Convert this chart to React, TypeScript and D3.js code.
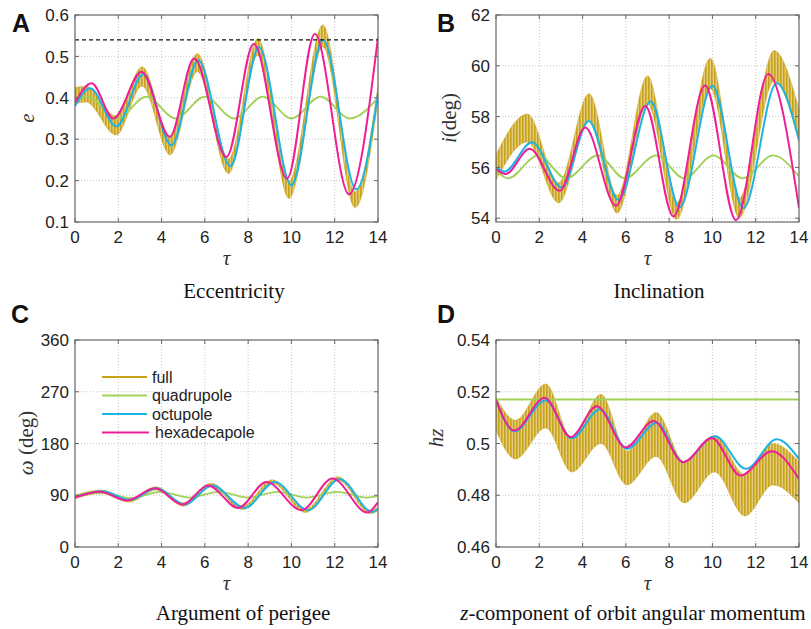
import React from 'react';
import * as d3 from 'd3';

const W = 811;
const H = 629;
const tauTicks = [0, 2, 4, 6, 8, 10, 12, 14];

// ---------- Panel A : eccentricity ----------
const fullA_t = [0, 0.5, 1.9, 3.1, 4.4, 5.65, 7.1, 8.45, 9.9, 11.45, 12.95, 14];
const fullA_lo = [0.385, 0.39, 0.31, 0.428, 0.262, 0.463, 0.217, 0.503, 0.157, 0.523, 0.135, 0.392];
const fullA_hi = [0.425, 0.428, 0.356, 0.475, 0.306, 0.507, 0.253, 0.543, 0.2, 0.576, 0.173, 0.43];
const quadA_t = [0, 0.6, 1.95, 3.3, 4.65, 6.0, 7.35, 8.68, 10.0, 11.35, 12.7, 14];
const quadA_v = [0.39, 0.403, 0.35, 0.403, 0.35, 0.403, 0.35, 0.403, 0.35, 0.403, 0.35, 0.4];
const octA_t = [0, 0.7, 1.92, 3.15, 4.46, 5.69, 7.18, 8.5, 10.0, 11.46, 13.0, 14];
const octA_v = [0.38, 0.423, 0.331, 0.457, 0.285, 0.491, 0.235, 0.522, 0.189, 0.54, 0.179, 0.41];
const hexA_t = [0, 0.77, 1.77, 3.08, 4.38, 5.5, 7.0, 8.26, 9.8, 11.08, 12.66, 14];
const hexA_v = [0.388, 0.435, 0.35, 0.463, 0.306, 0.495, 0.257, 0.53, 0.205, 0.554, 0.167, 0.546];
const eTicks = [0.1, 0.2, 0.3, 0.4, 0.5, 0.6];
const eLimit = 0.54;

// ---------- Panel B : inclination ----------
const fullB_t = [0, 1.45, 2.9, 4.3, 5.6, 7.0, 8.35, 9.9, 11.25, 12.85, 14];
const fullB_lo = [55.5, 57.0, 54.6, 57.8, 54.2, 58.5, 53.95, 59.1, 54.0, 59.4, 57.0];
const fullB_hi = [56.5, 58.1, 55.4, 58.9, 54.9, 59.6, 54.6, 60.3, 54.8, 60.6, 58.3];
const quadB_t = [0, 0.55, 1.95, 3.25, 4.7, 5.95, 7.4, 8.7, 10.05, 11.4, 12.8, 14];
const quadB_v = [55.88, 55.57, 56.47, 55.57, 56.47, 55.57, 56.47, 55.57, 56.47, 55.57, 56.47, 55.64];
const octB_t = [0, 0.4, 1.66, 3.05, 4.28, 5.66, 7.15, 8.48, 10.0, 11.43, 12.97, 14];
const octB_v = [56.0, 55.84, 56.99, 55.2, 57.83, 54.72, 58.59, 54.43, 59.21, 54.39, 59.31, 57.08];
const hexB_t = [0, 0.45, 1.55, 2.94, 4.12, 5.54, 6.9, 8.2, 9.66, 11.09, 12.58, 14];
const hexB_v = [55.93, 55.74, 56.73, 55.08, 57.57, 54.49, 58.42, 54.07, 59.22, 53.93, 59.68, 54.4];
const iTicks = [54, 56, 58, 60, 62];

// ---------- Panel C : argument of perigee ----------
const fullC_t = [0, 1.2, 2.5, 3.75, 5.0, 6.3, 7.75, 9.1, 10.65, 12.15, 13.65, 14];
const fullC_lo = [84, 93, 78, 99, 71, 105, 65, 111, 60, 116, 58, 63];
const fullC_hi = [90, 99, 84, 105, 77, 111, 71, 117, 66, 122, 64, 69];
const quadC_t = [0, 1.3, 2.6, 3.95, 5.3, 6.65, 8.0, 9.35, 10.7, 12.1, 13.5, 14];
const quadC_v = [88, 95, 85, 96, 86, 96, 86, 96, 86, 96, 86, 89];
const octC_t = [0, 1.25, 2.55, 3.77, 5.08, 6.34, 7.85, 9.23, 10.77, 12.23, 13.74, 14];
const octC_v = [87, 97, 82, 102, 74, 107, 68, 113, 64, 118, 61, 66];
const hexC_t = [0, 1.15, 2.4, 3.7, 4.97, 6.15, 7.54, 8.85, 10.46, 11.9, 13.5, 14];
const hexC_v = [86, 96, 81, 102, 74, 107, 68, 113, 64, 119, 60, 78];
const wTicks = [0, 90, 180, 270, 360];

// ---------- Panel D : hz ----------
const fullD_t = [0, 0.9, 2.3, 3.5, 4.85, 6.05, 7.4, 8.7, 10.1, 11.5, 12.8, 14];
const fullD_lo = [0.505, 0.494, 0.506, 0.489, 0.5, 0.484, 0.495, 0.477, 0.489, 0.472, 0.484, 0.477];
const fullD_hi = [0.518, 0.509, 0.523, 0.502, 0.519, 0.497, 0.512, 0.493, 0.503, 0.488, 0.5, 0.493];
const quadD_t = [0, 14];
const quadD_v = [0.517, 0.517];
const octD_t = [0, 0.85, 2.3, 3.5, 4.8, 6.05, 7.43, 8.63, 10.12, 11.55, 12.97, 14];
const octD_v = [0.5167, 0.5047, 0.5167, 0.502, 0.5132, 0.4979, 0.508, 0.4928, 0.5028, 0.4902, 0.5016, 0.494];
const hexD_t = [0, 0.85, 2.25, 3.45, 4.66, 6.0, 7.28, 8.66, 9.97, 11.3, 12.74, 14];
const hexD_v = [0.5167, 0.505, 0.5177, 0.5025, 0.5144, 0.4985, 0.5087, 0.4928, 0.5021, 0.4876, 0.497, 0.4863];
const hTicks = [0.46, 0.48, 0.5, 0.52, 0.54];

const legendLabels = ['full', 'quadrupole', 'octupole', 'hexadecapole'];

const C_FULL = '#c8a218';
const C_QUAD = '#a2d255';
const C_OCT = '#1eb4e1';
const C_HEX = '#f01e96';

const SANS = '"Liberation Sans", Arial, Helvetica, sans-serif';
const SERIF = '"Liberation Serif", "Times New Roman", serif';

type Box = { x0: number; x1: number; y0: number; y1: number };

interface PanelProps {
  id: string;
  box: Box;
  yDomain: [number, number];
  yTicks: number[];
  yFmt: (v: number) => string;
  fullT: number[];
  fullLo: number[];
  fullHi: number[];
  quadT: number[];
  quadV: number[];
  octT: number[];
  octV: number[];
  hexT: number[];
  hexV: number[];
  dashed?: number;
  legend?: boolean;
}

function Panel(p: PanelProps) {
  const { box } = p;
  const x = d3.scaleLinear().domain([0, 14]).range([box.x0, box.x1]);
  const y = d3.scaleLinear().domain(p.yDomain).range([box.y1, box.y0]);
  const mkLine = (t: number[], v: number[]) =>
    d3
      .line<number>()
      .x((_, i) => x(t[i]))
      .y((d) => y(d))
      .curve(d3.curveMonotoneX)(v) || '';
  const band =
    d3
      .area<number>()
      .x((_, i) => x(p.fullT[i]))
      .y0((d) => y(d))
      .y1((_, i) => y(p.fullHi[i]))
      .curve(d3.curveMonotoneX)(p.fullLo) || '';
  const clipId = `clip-${p.id}`;
  const patId = `pat-${p.id}`;
  const gridY = p.yTicks.filter((v) => y(v) > box.y0 + 1 && y(v) < box.y1 - 1);
  const gridX = tauTicks.filter((v) => v > 0 && v < 14);
  return (
    <g>
      <defs>
        <clipPath id={clipId}>
          <rect x={box.x0} y={box.y0} width={box.x1 - box.x0} height={box.y1 - box.y0} />
        </clipPath>
        <pattern id={patId} patternUnits="userSpaceOnUse" width={3} height={12}>
          <rect x={0} y={0} width={3} height={12} fill={C_FULL} opacity={0.55} />
          <rect x={0} y={0} width={1.6} height={12} fill={C_FULL} />
        </pattern>
      </defs>
      <rect x={box.x0} y={box.y0} width={box.x1 - box.x0} height={box.y1 - box.y0} fill="#fff" />
      {gridX.map((v) => (
        <line key={'gx' + v} x1={x(v)} x2={x(v)} y1={box.y0} y2={box.y1} stroke="#b8b8b8" strokeWidth={0.8} strokeDasharray="1,2" />
      ))}
      {gridY.map((v) => (
        <line key={'gy' + v} x1={box.x0} x2={box.x1} y1={y(v)} y2={y(v)} stroke="#b8b8b8" strokeWidth={0.8} strokeDasharray="1,2" />
      ))}
      <g clipPath={`url(#${clipId})`}>
        <path d={band} fill={`url(#${patId})`} stroke={C_FULL} strokeWidth={0.8} strokeOpacity={0.6} />
        <path d={mkLine(p.quadT, p.quadV)} fill="none" stroke={C_QUAD} strokeWidth={1.8} />
        <path d={mkLine(p.octT, p.octV)} fill="none" stroke={C_OCT} strokeWidth={2} />
        <path d={mkLine(p.hexT, p.hexV)} fill="none" stroke={C_HEX} strokeWidth={2} />
        {p.dashed !== undefined && (
          <line x1={box.x0} x2={box.x1} y1={y(p.dashed)} y2={y(p.dashed)} stroke="#111" strokeWidth={1.2} strokeDasharray="4,3" />
        )}
      </g>
      <rect x={box.x0} y={box.y0} width={box.x1 - box.x0} height={box.y1 - box.y0} fill="none" stroke="#666" strokeWidth={1.2} />
      {tauTicks.map((v) => (
        <g key={'tx' + v}>
          <line x1={x(v)} x2={x(v)} y1={box.y1} y2={box.y1 - 4} stroke="#666" />
          <line x1={x(v)} x2={x(v)} y1={box.y0} y2={box.y0 + 4} stroke="#666" />
          <text x={x(v)} y={box.y1 + 21} textAnchor="middle" fontFamily={SANS} fontSize={17} fill="#222">
            {v}
          </text>
        </g>
      ))}
      {p.yTicks.map((v) => (
        <g key={'ty' + v}>
          <line x1={box.x0} x2={box.x0 + 4} y1={y(v)} y2={y(v)} stroke="#666" />
          <line x1={box.x1} x2={box.x1 - 4} y1={y(v)} y2={y(v)} stroke="#666" />
          <text x={box.x0 - 6} y={y(v)} dy="0.36em" textAnchor="end" fontFamily={SANS} fontSize={17} fill="#222">
            {p.yFmt(v)}
          </text>
        </g>
      ))}
      <text x={(box.x0 + box.x1) / 2} y={box.y1 + 43} textAnchor="middle" fontFamily={SERIF} fontStyle="italic" fontSize={21} fill="#333">
        τ
      </text>
      {p.legend &&
        legendLabels.map((lab, i) => {
          const ly = [377, 395.5, 414, 432.5][i];
          const col = [C_FULL, C_QUAD, C_OCT, C_HEX][i];
          return (
            <g key={lab}>
              <line x1={102} x2={i === 3 ? 149 : 147} y1={ly} y2={ly} stroke={col} strokeWidth={2} />
              <text x={i === 3 ? 155 : 152} y={ly} dy="0.36em" fontFamily={SANS} fontSize={16} fill="#222">
                {lab}
              </text>
            </g>
          );
        })}
    </g>
  );
}

export default function App() {
  const boxA: Box = { x0: 75, x1: 378, y0: 15, y1: 222 };
  const boxB: Box = { x0: 496, x1: 799, y0: 15, y1: 222 };
  const boxC: Box = { x0: 75, x1: 378, y0: 340, y1: 547 };
  const boxD: Box = { x0: 496, x1: 799, y0: 340, y1: 547 };
  const f1 = (v: number) => String(v);
  return (
    <div style={{ position: 'absolute', left: 0, top: 0 }}>
      <svg width={W} height={H} viewBox={`0 0 ${W} ${H}`} style={{ display: 'block', background: '#fff' }}>
        <Panel id="A" box={boxA} yDomain={[0.1, 0.6]} yTicks={eTicks} yFmt={f1}
          fullT={fullA_t} fullLo={fullA_lo} fullHi={fullA_hi}
          quadT={quadA_t} quadV={quadA_v} octT={octA_t} octV={octA_v} hexT={hexA_t} hexV={hexA_v}
          dashed={eLimit} />
        <Panel id="B" box={boxB} yDomain={[53.85, 62]} yTicks={iTicks} yFmt={f1}
          fullT={fullB_t} fullLo={fullB_lo} fullHi={fullB_hi}
          quadT={quadB_t} quadV={quadB_v} octT={octB_t} octV={octB_v} hexT={hexB_t} hexV={hexB_v} />
        <Panel id="C" box={boxC} yDomain={[0, 360]} yTicks={wTicks} yFmt={f1}
          fullT={fullC_t} fullLo={fullC_lo} fullHi={fullC_hi}
          quadT={quadC_t} quadV={quadC_v} octT={octC_t} octV={octC_v} hexT={hexC_t} hexV={hexC_v}
          legend />
        <Panel id="D" box={boxD} yDomain={[0.46, 0.54]} yTicks={hTicks} yFmt={f1}
          fullT={fullD_t} fullLo={fullD_lo} fullHi={fullD_hi}
          quadT={quadD_t} quadV={quadD_v} octT={octD_t} octV={octD_v} hexT={hexD_t} hexV={hexD_v} />

        {/* panel letters */}
        <g fontFamily={SANS} fontWeight="bold" fontSize={25} fill="#111">
          <text x={12} y={32}>A</text>
          <text x={437} y={32}>B</text>
          <text x={11} y={323}>C</text>
          <text x={437} y={323}>D</text>
        </g>

        {/* y labels */}
        <g fontFamily={SERIF} fontSize={21} fill="#333">
          <text transform="translate(34,118) rotate(-90)" textAnchor="middle" fontStyle="italic">e</text>
          <text transform="translate(456,118) rotate(-90)" textAnchor="middle">
            <tspan fontStyle="italic">i</tspan>(deg)
          </text>
          <text transform="translate(33,443) rotate(-90)" textAnchor="middle">
            <tspan fontStyle="italic">ω</tspan> (deg)
          </text>
          <text transform="translate(443,438) rotate(-90)" textAnchor="middle" fontStyle="italic">hz</text>
        </g>

        {/* subplot captions */}
        <g fontFamily={SERIF} fontSize={21} fill="#111" textAnchor="middle">
          <text x={234} y={298}>Eccentricity</text>
          <text x={659} y={298}>Inclination</text>
          <text x={243} y={620}>Argument of perigee</text>
          <text x={633} y={620}>
            <tspan fontStyle="italic">z</tspan>-component of orbit angular momentum
          </text>
        </g>
      </svg>
    </div>
  );
}
